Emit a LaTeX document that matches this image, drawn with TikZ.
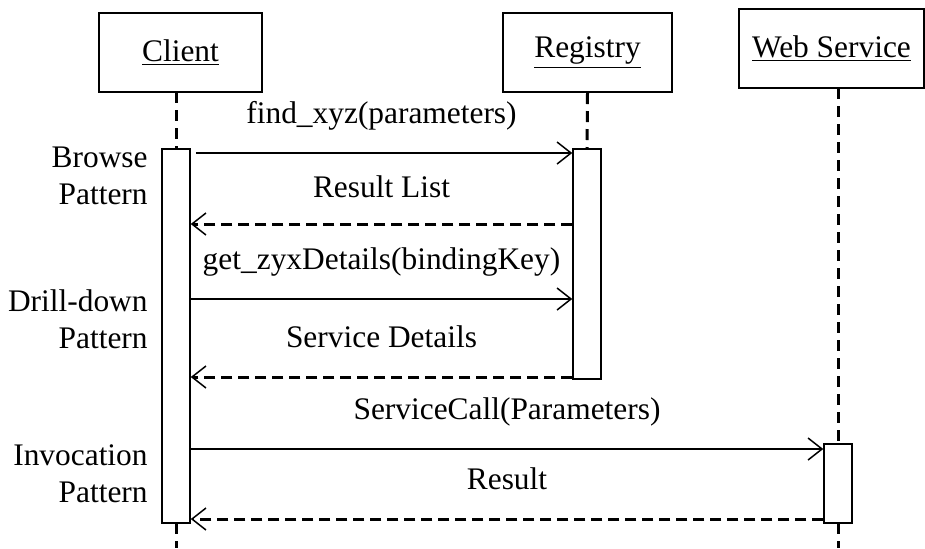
\documentclass[tikz,border=0pt]{standalone}
\usepackage{fontspec}
\setmainfont{Liberation Serif}
\usetikzlibrary{arrows.meta}

\begin{document}
\begin{tikzpicture}[x=0.5pt, y=-0.5pt,
  every node/.style={font=\fontsize{15.7}{18.5}\selectfont, inner sep=0pt},
  obj/.style={draw, line width=1pt, minimum height=39.5pt},
  bar/.style={draw, line width=0.75pt, fill=white, minimum width=14pt},
  life/.style={line width=1.5pt, dash pattern=on 5.5pt off 3.5pt},
  msg/.style={line width=0.75pt, -{Straight Barb[length=7pt,width=11pt,line width=0.75pt]}},
  reply/.style={msg, line width=1.5pt, dash pattern=on 5.5pt off 3pt},
  lbl/.style={anchor=base, yshift=15pt}]
\useasboundingbox (0,0) rectangle (925,548);
% objects
\node[obj, minimum width=81.5pt] (client) at (180.5,52.5) {\underline{Client}};
\node[obj, minimum width=84.5pt] (registry) at (587.5,52.5) {\underline{Registry}};
\node[obj, minimum width=92.5pt] (ws) at (831.5,48.5) {\underline{Web Service}};
% lifelines
\coordinate (cend) at (176,548);
\coordinate (wend) at (838,548);
\draw[life] (176,92) -- (176,149);
\draw[life] (176,523) -- (cend);
\draw[life] (registry.south) -- (587,149);
\draw[life] (838,88) -- (838,444);
\draw[life] (838,523) -- (wend);
% activation bars
\node[bar, minimum height=187pt] (cbar) at (176,336) {};
\node[bar, minimum height=115pt] (rbar) at (587,264) {};
\node[bar, minimum height=39.5pt] (wbar) at (838,483.5) {};
% message levels
\coordinate (m1) at (0,153);
\coordinate (m2) at (0,224);
\coordinate (m3) at (0,299);
\coordinate (m4) at (0,377);
\coordinate (m5) at (0,449);
\coordinate (m6) at (0,519);
% messages
\draw[msg, shorten <=2.5pt] (cbar.east |- m1) -- (rbar.west |- m1) node[lbl, midway] {find\_xyz(parameters)};
\draw[reply] (rbar.west |- m2) -- (cbar.east |- m2) node[lbl, midway, yshift=-1.5pt] {Result List};
\draw[msg] (cbar.east |- m3) -- (rbar.west |- m3) node[lbl, midway] {get\_zyxDetails(bindingKey)};
\draw[reply] (rbar.west |- m4) -- (cbar.east |- m4) node[lbl, midway] {Service Details};
\draw[msg] (cbar.east |- m5) -- (wbar.west |- m5) node[lbl, midway] {ServiceCall(Parameters)};
\draw[reply] (wbar.west |- m6) -- (cbar.east |- m6) node[lbl, midway] {Result};
% patterns
\node[anchor=east, align=right] (browse) at (148,176) {Browse\\Pattern};
\node[anchor=east, align=right] (drill) at (148,319) {Drill-down\\Pattern};
\node[anchor=east, align=right] (invoke) at (148,474) {Invocation\\Pattern};
\end{tikzpicture}
\end{document}
